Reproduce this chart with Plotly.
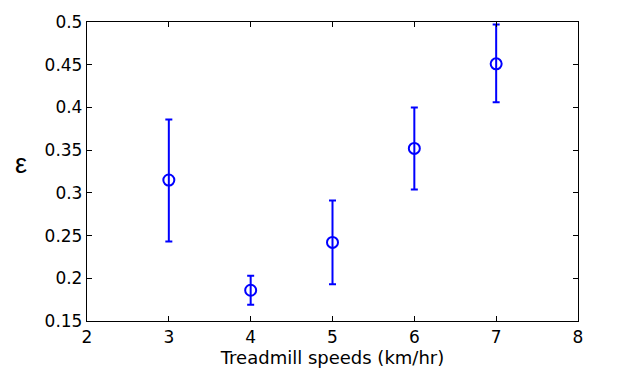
import plotly.graph_objects as go

speeds = [3, 4, 5, 6, 7]
epsilon = [0.315, 0.186, 0.242, 0.352, 0.451]
err_upper = [0.071, 0.017, 0.049, 0.048, 0.046]
err_lower = [0.072, 0.017, 0.049, 0.048, 0.045]

x_ticks = [2, 3, 4, 5, 6, 7, 8]
y_ticks = [0.15, 0.2, 0.25, 0.3, 0.35, 0.4, 0.45, 0.5]
y_tick_text = ["0.15", "0.2", "0.25", "0.3", "0.35", "0.4", "0.45", "0.5"]

blue = "#0000FF"
font_family = "DejaVu Sans, Liberation Sans, sans-serif"

fig = go.Figure()
fig.add_trace(go.Scatter(
    x=speeds, y=epsilon, mode="markers",
    marker=dict(symbol="circle-open", size=11, color=blue, line=dict(width=2, color=blue)),
    error_y=dict(type="data", symmetric=False, array=err_upper, arrayminus=err_lower,
                 color=blue, thickness=2, width=3.5),
    showlegend=False,
))

axis_common = dict(showline=True, linecolor="black", linewidth=1.3, mirror="ticks",
                   ticks="inside", ticklen=5, tickcolor="black", tickwidth=1, showgrid=False,
                   zeroline=False, tickfont=dict(family=font_family, size=17, color="black"))

fig.update_layout(
    width=621, height=371,
    margin=dict(l=87, r=43, t=17, b=48),
    plot_bgcolor="white", paper_bgcolor="white",
    font=dict(family=font_family, color="black"),
    xaxis=dict(range=[2, 8], tickvals=x_ticks, **axis_common,
               title=dict(text="Treadmill speeds (km/hr)", font=dict(size=18), standoff=0)),
    yaxis=dict(range=[0.15, 0.5], tickvals=y_ticks, ticktext=y_tick_text, **axis_common),
    annotations=[dict(text="ε", xref="paper", yref="paper", x=-0.135, y=0.525,
                      xanchor="center", yanchor="middle", showarrow=False,
                      font=dict(family="Liberation Sans, Arial, sans-serif", size=27, color="black"))],
)
fig.write_html("out.html")
